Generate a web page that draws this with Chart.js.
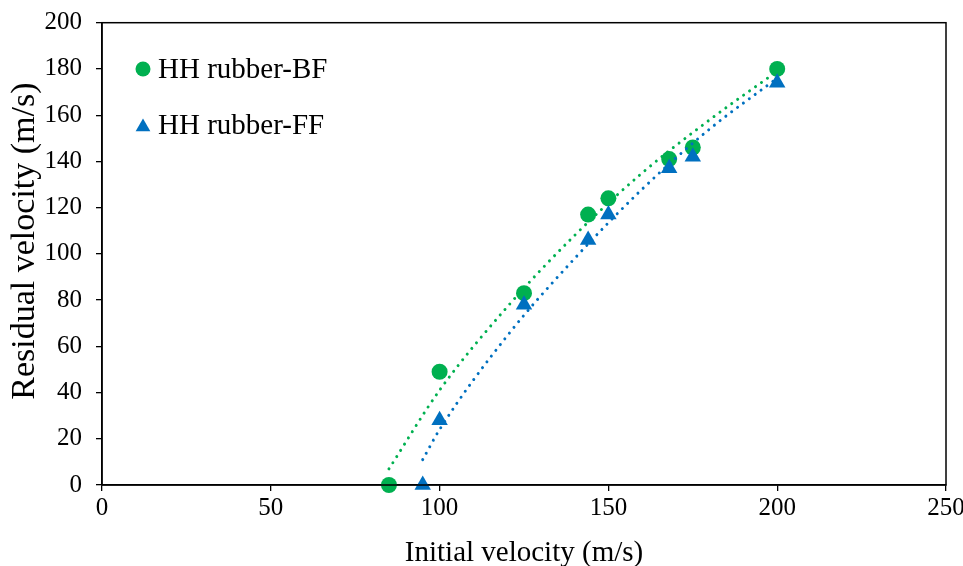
<!DOCTYPE html>
<html>
<head>
<meta charset="utf-8">
<script src="https://cdn.jsdelivr.net/npm/chart.js@4.4.1/dist/chart.umd.min.js"></script>
<style>
  html, body { margin: 0; padding: 0; background: #ffffff; }
  #wrap { width: 963px; height: 566px; }
</style>
</head>
<body>
<div id="wrap"><canvas id="c" width="963" height="566"></canvas></div>
<script>
// ---- data ----
const seriesNames = ["HH rubber-BF", "HH rubber-FF"];
const bfInitial = [85, 100, 125, 144, 150, 168, 175, 200];
const bfResidual = [0, 49, 83, 117, 124, 141, 146, 180];
const ffInitial = [95, 100, 125, 144, 150, 168, 175, 200];
const ffResidual = [0, 28, 78, 106, 117, 137, 142, 174];
// dotted trend curves
const bfTrendX = [85, 100, 120, 140, 160, 180, 200];
const bfTrendY = [7, 41, 77, 108, 135, 158, 179];
const ffTrendX = [95, 100, 120, 140, 160, 180, 200];
const ffTrendY = [11, 24, 64.5, 98, 128, 154, 176];
const xTicks = [0, 50, 100, 150, 200, 250];
const yTicks = [0, 20, 40, 60, 80, 100, 120, 140, 160, 180, 200];
const xTitle = "Initial velocity (m/s)";
const yTitle = "Residual velocity (m/s)";

const GREEN = "#00B050";
const BLUE = "#0070C0";
const FONT = "'Liberation Serif', 'Times New Roman', serif";

function pts(xs, ys) { return xs.map((x, i) => ({ x: x, y: ys[i] })); }

const frame = {
  id: "frame",
  afterDraw(chart) {
    const { ctx, chartArea: a } = chart;
    ctx.save();
    ctx.strokeStyle = "#000";
    ctx.lineWidth = 1.5;
    ctx.strokeRect(a.left, a.top, a.right - a.left, a.bottom - a.top);
    ctx.restore();
  }
};

const insideLegend = {
  id: "insideLegend",
  afterDraw(chart) {
    const ctx = chart.ctx;
    const items = [
      { name: seriesNames[0], style: "circle", color: GREEN, r: 7.5 },
      { name: seriesNames[1], style: "triangle", color: BLUE, r: 8.5 }
    ];
    const x0 = 143, y0 = 69, gap = 56;
    ctx.save();
    items.forEach((it, i) => {
      const y = y0 + i * gap;
      ctx.fillStyle = it.color;
      ctx.strokeStyle = it.color;
      Chart.helpers.drawPoint(ctx, { pointStyle: it.style, radius: it.r, rotation: 0, borderWidth: 0 }, x0, y + (it.style === "triangle" ? 2 : 0));
      ctx.fillStyle = "#000";
      ctx.font = "29px " + FONT;
      ctx.textAlign = "left";
      ctx.textBaseline = "middle";
      ctx.fillText(it.name, x0 + 15, y + 1);
    });
    ctx.restore();
  }
};

const dotted = { borderWidth: 3, borderDash: [0.01, 7.3], borderCapStyle: "round", pointRadius: 0, showLine: true, cubicInterpolationMode: "monotone", fill: false };

new Chart(document.getElementById("c"), {
  type: "scatter",
  data: {
    datasets: [
      Object.assign({ label: "FF trend", data: pts(ffTrendX, ffTrendY), borderColor: BLUE }, dotted),
      Object.assign({ label: "BF trend", data: pts(bfTrendX, bfTrendY), borderColor: GREEN }, dotted),
      { label: seriesNames[1], data: pts(ffInitial, ffResidual), pointStyle: "triangle", pointRadius: 9.5, backgroundColor: BLUE, borderColor: BLUE, borderWidth: 0, showLine: false },
      { label: seriesNames[0], data: pts(bfInitial, bfResidual), pointStyle: "circle", pointRadius: 8, backgroundColor: GREEN, borderColor: GREEN, borderWidth: 0, showLine: false }
    ]
  },
  options: {
    responsive: false,
    animation: false,
    clip: false,
    layout: { padding: { top: 22.7, right: 17, left: 0, bottom: 0 } },
    plugins: { legend: { display: false }, tooltip: { enabled: false } },
    scales: {
      x: {
        type: "linear", min: 0, max: 250,
        afterBuildTicks(s) { s.ticks = xTicks.map(v => ({ value: v })); },
        afterFit(s) { s.height = 81; s.paddingLeft = 0; s.paddingRight = 0; },
        grid: { drawOnChartArea: false, drawTicks: true, tickLength: 6, color: "#000", lineWidth: 1.3 },
        border: { color: "#000", width: 1.5 },
        ticks: { color: "#000", font: { family: FONT, size: 25 }, padding: 2, maxRotation: 0 },
        title: { display: true, text: xTitle, color: "#000", font: { family: FONT, size: 29, lineHeight: 1 }, padding: { top: 0, bottom: -2 } }
      },
      y: {
        type: "linear", min: 0, max: 200,
        afterBuildTicks(s) { s.ticks = yTicks.map(v => ({ value: v })); },
        afterFit(s) { s.width = 102; s.paddingTop = 0; s.paddingBottom = 0; },
        grid: { drawOnChartArea: false, drawTicks: true, tickLength: 6, color: "#000", lineWidth: 1.3 },
        border: { color: "#000", width: 1.5 },
        ticks: { color: "#000", font: { family: FONT, size: 25 }, padding: 14 },
        title: { display: true, text: "   " + yTitle, color: "#000", font: { family: FONT, size: 34, lineHeight: 1 }, padding: { top: 8, bottom: 8 } }
      }
    }
  },
  plugins: [frame, insideLegend]
});
</script>
</body>
</html>
